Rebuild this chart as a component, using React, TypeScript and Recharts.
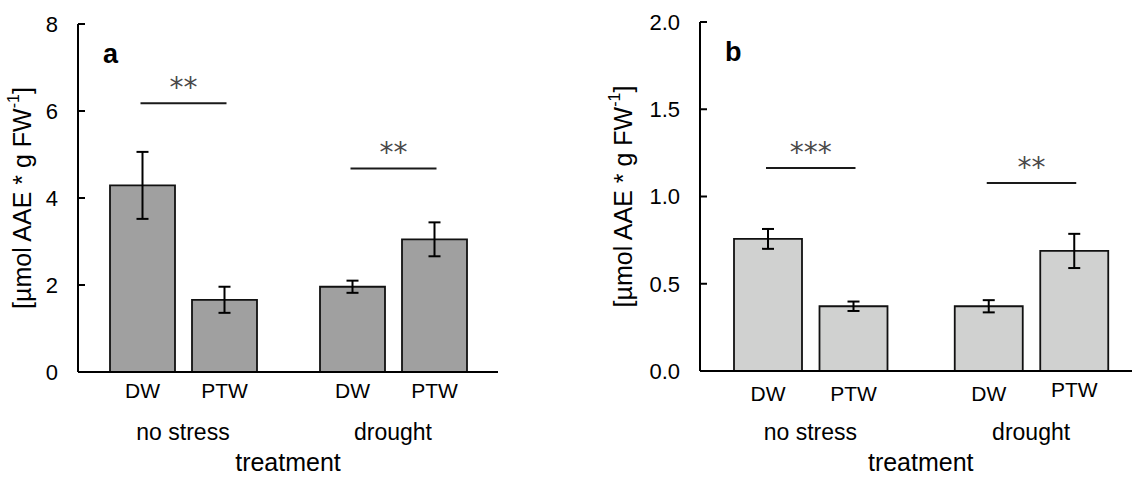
import React from 'react'
import { BarChart, Bar, XAxis, YAxis, ErrorBar, LabelList, Label } from 'recharts'

const FONT = '"Liberation Sans", Arial, sans-serif'

const conditions = ['no stress', 'drought']

// panel a
const dwA = [4.29, 1.96]
const ptwA = [1.66, 3.05]
const dwErrA = [0.77, 0.14]
const ptwErrA = [0.3, 0.39]
const sigA = ['**', '**']
const sigAtA = [6.18, 4.68]
const ticksA = [0, 2, 4, 6, 8]

// panel b
const dwB = [0.757, 0.371]
const ptwB = [0.371, 0.688]
const dwErrB = [0.057, 0.035]
const ptwErrB = [0.027, 0.098]
const sigB = ['***', '**']
const sigAtB = [1.163, 1.077]
const ticksB = [0, 0.5, 1, 1.5, 2]

type Row = {
    condition: string
    dw: number
    ptw: number
    dwErr: number
    ptwErr: number
    sig: string
    sigAt: number
}

const buildRows = (dw: number[], ptw: number[], dwErr: number[], ptwErr: number[], sig: string[], sigAt: number[]): Row[] =>
    conditions.map((c, i) => ({ condition: c, dw: dw[i], ptw: ptw[i], dwErr: dwErr[i], ptwErr: ptwErr[i], sig: sig[i], sigAt: sigAt[i] }))

const rowsA = buildRows(dwA, ptwA, dwErrA, ptwErrA, sigA, sigAtA)
const rowsB = buildRows(dwB, ptwB, dwErrB, ptwErrB, sigB, sigAtB)

const box = (props: any) => {
    const vb = props.viewBox && props.viewBox.width !== undefined ? props.viewBox : props
    return { x: Number(vb.x), y: Number(vb.y), width: Number(vb.width), height: Number(vb.height) }
}

interface PanelProps {
    rows: Row[]
    letter: string
    left: number
    width: number
    margin: { top: number; right: number; bottom: number; left: number }
    yAxisWidth: number
    xAxisHeight: number
    domain: [number, number]
    ticks: number[]
    fill: string
    barSize: number
    barGap: number
    titleX: number
    nameOffset: number
    nameLift: number[]
    catMargin: number
    tickFormatter?: (v: number) => string
}

function Panel(p: PanelProps) {
    const nameLabel = (name: string, lift: number[]) => (props: any) => {
        const b = box(props)
        const i = Number(props.index) || 0
        return (
            <text
                x={b.x + b.width / 2}
                y={b.y + b.height + p.nameOffset - (lift[i] || 0)}
                dy="0.71em"
                textAnchor="middle"
                fontSize={21}
                fontFamily={FONT}
                fill="#000"
            >
                {name}
            </text>
        )
    }

    // bracket between DW and PTW bar centres, y from the bar's own scale
    const sigLabel = (props: any) => {
        const b = box(props)
        const i = Number(props.index) || 0
        const row = p.rows[i]
        const perUnit = b.height / row.dw
        const zero = b.y + b.height
        const ly = zero - row.sigAt * perUnit
        const x1 = b.x + b.width / 2
        const x2 = x1 + b.width + p.barGap
        return (
            <g>
                <line x1={x1 - 2} x2={x2 + 2} y1={ly} y2={ly} stroke="#1a1a1a" strokeWidth={2} />
                <text
                    x={(x1 + x2) / 2}
                    y={ly - 6}
                    textAnchor="middle"
                    fontSize={28}
                    fontFamily='"DejaVu Sans", sans-serif'
                    fill="#4a4a4a"
                >
                    {row.sig}
                </text>
            </g>
        )
    }

    const titleContent = (props: any) => {
        const vb = props.viewBox
        const cx = vb.x + p.titleX
        const cy = vb.y + vb.height / 2
        return (
            <g>
                <text
                    x={cx}
                    y={cy}
                    transform={`rotate(-90, ${cx}, ${cy})`}
                    textAnchor="middle"
                    dominantBaseline="central"
                    fontSize={25}
                    fontFamily={FONT}
                    fill="#000"
                >
                    [µmol AAE * g FW
                    <tspan dy={-9} fontSize={16}>-1</tspan>
                    <tspan dy={9}>]</tspan>
                </text>
                <text x={vb.x + vb.width + 25} y={vb.y + 39} fontSize={27} fontWeight="bold" fontFamily={FONT} fill="#000">
                    {p.letter}
                </text>
            </g>
        )
    }

    const axisLine = { stroke: '#000', strokeWidth: 2 }

    return (
        <div style={{ position: 'absolute', left: p.left, top: 0 }}>
            <BarChart width={p.width} height={478} data={p.rows} margin={p.margin} barGap={p.barGap} barSize={p.barSize}>
                <XAxis
                    dataKey="condition"
                    axisLine={axisLine}
                    tickLine={false}
                    tickSize={0}
                    tickMargin={p.catMargin}
                    height={p.xAxisHeight}
                    interval={0}
                    tick={{ fill: '#000', fontSize: 23, fontFamily: FONT }}
                >
                    <Label value="treatment" position="insideBottom" offset={7} style={{ fontSize: 25, fill: '#000', fontFamily: FONT }} />
                </XAxis>
                <XAxis xAxisId="top" dataKey="condition" orientation="top" height={0} tick={false} tickLine={false} axisLine={axisLine} />
                <YAxis
                    type="number"
                    domain={p.domain}
                    ticks={p.ticks}
                    interval={0}
                    width={p.yAxisWidth}
                    axisLine={axisLine}
                    tickLine={{ stroke: '#000', strokeWidth: 2 }}
                    tickSize={-7}
                    tickMargin={27}
                    tickFormatter={p.tickFormatter}
                    tick={{ fill: '#000', fontSize: 22, fontFamily: FONT }}
                >
                    <Label content={titleContent} />
                </YAxis>
                <YAxis yAxisId="right" orientation="right" width={0} domain={[0, 1]} tick={false} tickLine={false} axisLine={axisLine} />
                <Bar dataKey="dw" fill={p.fill} stroke="#111" strokeWidth={1.8} isAnimationActive={false}>
                    <ErrorBar dataKey="dwErr" width={6} strokeWidth={2} stroke="#000" />
                    <LabelList dataKey="dw" content={nameLabel('DW', [0, 0])} />
                    <LabelList dataKey="dw" content={sigLabel} />
                </Bar>
                <Bar dataKey="ptw" fill={p.fill} stroke="#111" strokeWidth={1.8} isAnimationActive={false}>
                    <ErrorBar dataKey="ptwErr" width={6} strokeWidth={2} stroke="#000" />
                    <LabelList dataKey="ptw" content={nameLabel('PTW', p.nameLift)} />
                </Bar>
            </BarChart>
        </div>
    )
}

export default function App() {
    return (
        <div style={{ position: 'absolute', left: 0, top: 0, width: 1132, height: 478, overflow: 'hidden', background: '#fff' }}>
            <Panel
                rows={rowsA}
                letter="a"
                left={0}
                width={560}
                margin={{ top: 24, right: 62, bottom: 0, left: 0 }}
                yAxisWidth={78}
                xAxisHeight={106}
                domain={[0, 8]}
                ticks={ticksA}
                fill="#a0a0a0"
                barSize={65}
                barGap={17}
                titleX={22}
                nameOffset={11}
                nameLift={[0, 0]}
                catMargin={52}
            />
            <Panel
                rows={rowsB}
                letter="b"
                left={566}
                width={590}
                margin={{ top: 22, right: 14.5, bottom: 0, left: 0 }}
                yAxisWidth={134}
                xAxisHeight={107}
                domain={[0, 2]}
                ticks={ticksB}
                fill="#d0d1d0"
                barSize={68}
                barGap={17.5}
                titleX={57}
                nameOffset={15}
                nameLift={[0, 3.5]}
                catMargin={53}
                tickFormatter={(v: number) => v.toFixed(1)}
            />
        </div>
    )
}
